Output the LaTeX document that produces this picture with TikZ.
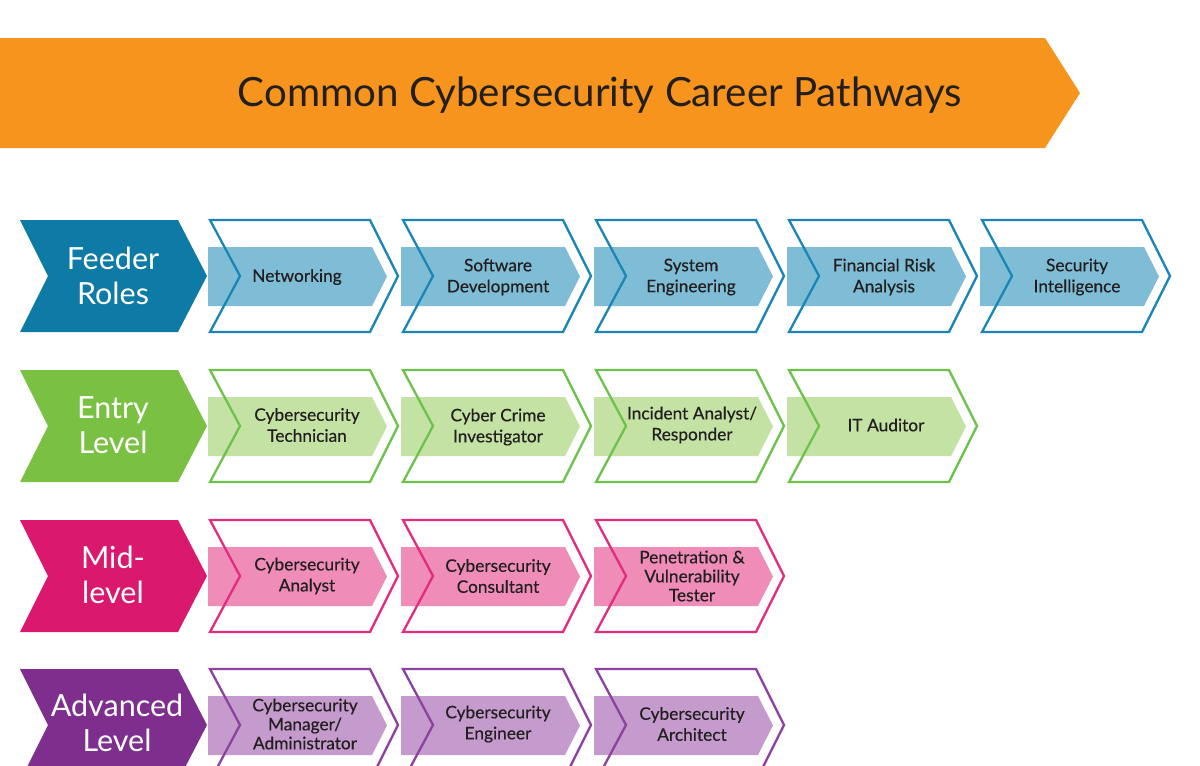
\documentclass[tikz,border=0pt]{standalone}
\usepackage{fontspec}
\setmainfont{Lato}
\newfontfamily\itemfont{Lato}[FakeBold=0.4]
\definecolor{orng}{HTML}{F7941D}
\definecolor{bluD}{HTML}{0E7AA6}
\definecolor{bluO}{HTML}{1A86B8}
\definecolor{bluF}{HTML}{7FBCD6}
\definecolor{grnD}{HTML}{7AC143}
\definecolor{grnO}{HTML}{6CC24A}
\definecolor{grnF}{HTML}{C3E2A4}
\definecolor{magD}{HTML}{D9186E}
\definecolor{magO}{HTML}{E32B7F}
\definecolor{magF}{HTML}{EF8DB8}
\definecolor{purD}{HTML}{7E2F8E}
\definecolor{purO}{HTML}{8C429E}
\definecolor{purF}{HTML}{C49BCC}
\definecolor{txt}{HTML}{231F20}
\tikzset{
  itemtxt/.style={align=center, text=txt, inner sep=0pt, font=\itemfont\fontsize{17.3}{21}\selectfont},
  itemtxtthree/.style={itemtxt, font=\itemfont\fontsize{17.3}{19}\selectfont},
  labtxt/.style={align=center, text=white, inner sep=0pt, font=\fontsize{30.5}{35}\selectfont},
  outline/.style={line width=2.3pt, line join=miter, fill=white},
}
% outlined chevron with inner band: x0, ytop, outline colour, band colour
\newcommand{\outchev}[4]{%
  \fill[#4] (#1-2,#2+27) -- (#1+162,#2+27) -- (#1+177,#2+56.5) -- (#1+162,#2+86) -- (#1-2,#2+86) -- cycle;
  \draw[line width=2.3pt, line join=miter, draw=#3] (#1,#2) -- (#1+160,#2) -- (#1+188,#2+56) -- (#1+160,#2+112) -- (#1,#2+112) -- (#1+30,#2+56) -- cycle;
}
% solid label chevron: ytop, colour
\newcommand{\labchev}[2]{%
  \fill[#2] (20,#1) -- (178,#1) -- (207,#1+56) -- (178,#1+112) -- (20,#1+112) -- (48,#1+56) -- cycle;
}
\begin{document}
\begin{tikzpicture}[x=1pt,y=-1pt]
\clip (0,0) rectangle (1200,766);
\fill[white] (0,0) rectangle (1200,766);
% banner
\fill[orng] (0,38) -- (1045,38) -- (1080,93) -- (1045,148) -- (0,148) -- cycle;
\node[anchor=base, text=txt, inner sep=0pt, font=\fontsize{40.3}{48}\selectfont] (title) at (600,106) {Common Cybersecurity Career Pathways};

% ---------- row 1 : Feeder Roles ----------
\labchev{220}{bluD}
\node[labtxt] (feeder) at (113,276) {Feeder\\Roles};
\outchev{210}{220}{bluO}{bluF}
\outchev{403}{220}{bluO}{bluF}
\outchev{596}{220}{bluO}{bluF}
\outchev{789}{220}{bluO}{bluF}
\outchev{982}{220}{bluO}{bluF}
\node[itemtxt] (net) at (297,277) {Networking};
\node[itemtxt] (soft) at (498,277) {Software\\Development};
\node[itemtxt] (syseng) at (691,277) {System\\Engineering};
\node[itemtxt] (finrisk) at (884,277) {Financial Risk\\Analysis};
\node[itemtxt] (secint) at (1077,277) {Security\\Intelligence};

% ---------- row 2 : Entry Level ----------
\labchev{370}{grnD}
\node[labtxt] (entry) at (113,425) {Entry\\Level};
\outchev{210}{370}{grnO}{grnF}
\outchev{403}{370}{grnO}{grnF}
\outchev{596}{370}{grnO}{grnF}
\outchev{789}{370}{grnO}{grnF}
\node[itemtxt] (tech) at (307,425) {Cybersecurity\\Technician};
\node[itemtxt] (crime) at (498,427) {Cyber Crime\\Investigator};
\node[itemtxt] (incident) at (692,425) {Incident Analyst/\\Responder};
\node[itemtxt] (audit) at (886,425) {IT Auditor};

% ---------- row 3 : Mid-level ----------
\labchev{520}{magD}
\node[labtxt] (mid) at (113,575) {Mid-\\level};
\outchev{210}{520}{magO}{magF}
\outchev{403}{520}{magO}{magF}
\outchev{596}{520}{magO}{magF}
\node[itemtxt] (analyst) at (307,576) {Cybersecurity\\Analyst};
\node[itemtxt] (consult) at (498,576) {Cybersecurity\\Consultant};
\node[itemtxtthree] (pentest) at (692,576) {Penetration \&\\Vulnerability\\Tester};

% ---------- row 4 : Advanced Level ----------
\labchev{669}{purD}
\node[labtxt] (adv) at (117,723) {Advanced\\Level};
\outchev{210}{669}{purO}{purF}
\outchev{403}{669}{purO}{purF}
\outchev{596}{669}{purO}{purF}
\node[itemtxtthree] (manager) at (305,724) {Cybersecurity\\Manager/\\Administrator};
\node[itemtxt] (engineer) at (498,724) {Cybersecurity\\Engineer};
\node[itemtxt] (architect) at (692,724) {Cybersecurity\\Architect};
\end{tikzpicture}
\end{document}
